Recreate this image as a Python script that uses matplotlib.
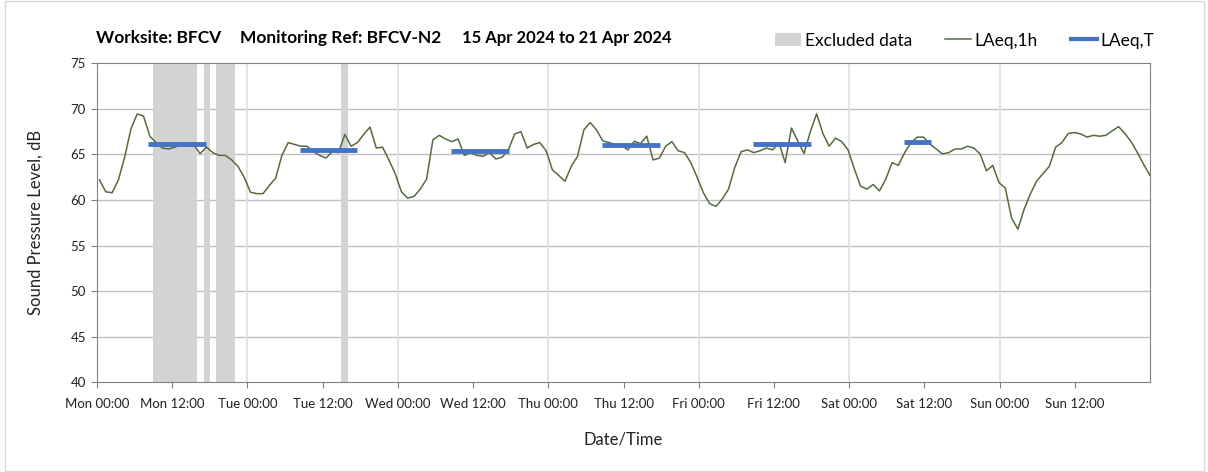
import numpy as np
import matplotlib.pyplot as plt
from matplotlib.patches import Patch, Rectangle
from matplotlib.lines import Line2D

plt.rcParams['font.family'] = ['Lato', 'DejaVu Sans']

# Hourly LAeq,1h values, Mon 00:00 to Sun 23:00
laeq_1h = [
    62.2, 60.9, 60.8, 62.2, 64.7, 67.8, 69.45, 69.2, 67.0, 66.3,
    65.7, 65.6, 65.8, 66.1, 65.9, 66.0, 65.1, 65.8, 65.2, 64.9,
    64.9, 64.4, 63.7, 62.5, 60.85, 60.7, 60.7, 61.6, 62.4, 64.9,
    66.3, 66.1, 65.9, 65.9, 65.3, 64.9, 64.6, 65.3, 65.2, 67.2,
    65.9, 66.3, 67.2, 68.0, 65.7, 65.8, 64.4, 62.9, 60.9, 60.2,
    60.4, 61.2, 62.3, 66.6, 67.1, 66.7, 66.4, 66.7, 64.9, 65.2,
    64.9, 64.8, 65.2, 64.5, 64.7, 65.5, 67.25, 67.5, 65.7, 66.1,
    66.3, 65.4, 63.3, 62.7, 62.05, 63.7, 64.8, 67.7, 68.5, 67.7,
    66.5, 66.3, 66.1, 66.0, 65.5, 66.45, 66.2, 67.0, 64.4, 64.6,
    65.9, 66.4, 65.4, 65.2, 64.1, 62.5, 60.8, 59.6, 59.3, 60.1,
    61.2, 63.6, 65.3, 65.5, 65.2, 65.4, 65.7, 65.5, 66.3, 64.1,
    67.9, 66.5, 65.1, 67.5, 69.45, 67.3, 65.9, 66.8, 66.4, 65.5,
    63.4, 61.5, 61.2, 61.7, 61.0, 62.3, 64.1, 63.8, 65.2, 66.3,
    66.9, 66.9, 66.15, 65.6, 65.05, 65.2, 65.6, 65.6, 65.9, 65.7,
    65.05, 63.2, 63.8, 61.9, 61.3, 58.0, 56.8, 59.0, 60.7, 62.1,
    62.9, 63.7, 65.8, 66.3, 67.3, 67.4, 67.25, 66.9, 67.1, 67.0,
    67.1, 67.6, 68.05, 67.3, 66.4, 65.2, 63.9, 62.7,
]
hours = np.linspace(0.4, 168, len(laeq_1h))

# LAeq,T periods (start hour, end hour, level)
period_start = [8.2, 32.4, 56.4, 80.5, 104.6, 128.7]
period_end = [17.4, 41.5, 65.7, 89.9, 113.9, 133.0]
period_level = [66.15, 65.5, 65.4, 66.0, 66.1, 66.4]

# Excluded data spans (hours)
excl_start = [9, 17, 19, 39]
excl_end = [16, 18, 22, 40]

tick_labels = ["Mon 00:00", "Mon 12:00", "Tue 00:00", "Tue 12:00",
               "Wed 00:00", "Wed 12:00", "Thu 00:00", "Thu 12:00",
               "Fri 00:00", "Fri 12:00", "Sat 00:00", "Sat 12:00",
               "Sun 00:00", "Sun 12:00"]

W, H = 1208, 472
fig = plt.figure(figsize=(W / 100, H / 100), dpi=100)
fig.patches.append(Rectangle((5 / W, 1 / H), 1199 / W, 470 / H, transform=fig.transFigure,
                             fill=False, edgecolor='#d9d9d9', linewidth=1))
ax = fig.add_axes([97 / W, 1 - 382.3 / H, 1053 / W, 319 / H])

for s, e in zip(excl_start, excl_end):
    ax.axvspan(s, e, color='#d3d3d3', linewidth=0, zorder=1)

ax.plot(hours, laeq_1h, color='#556b3f', linewidth=1.1, zorder=3)
ax.hlines(period_level, period_start, period_end, color='#4472c4', linewidth=3.5, zorder=4)

ax.set_xlim(0, 168)
ax.set_ylim(40, 75)
ax.set_xticks(np.arange(0, 168, 12))
ax.set_xticklabels(tick_labels)
ax.set_yticks(np.arange(40, 76, 5))
for y in range(45, 75, 5):
    ax.axhline(y, color='#bfbfbf', linewidth=1, zorder=0)
for d in range(24, 168, 24):
    ax.axvline(d, color='#e0e0e0', linewidth=1.2, zorder=0)

for sp in ax.spines.values():
    sp.set_color('#808080')
ax.tick_params(axis='both', colors='#808080', labelcolor='#222222', labelsize=9.5, length=4)
ax.tick_params(axis='x', pad=7)
ax.tick_params(axis='y', pad=4)

ax.set_ylabel("Sound Pressure Level, dB", fontsize=12, color='#222222', labelpad=19)
ax.set_xlabel("Date/Time", fontsize=12, color='#222222', labelpad=16)

ty = 1 - 38 / H
fig.text(96 / W, ty, "Worksite: BFCV", fontsize=12.5, fontweight='bold', va='center')
fig.text(240 / W, ty, "Monitoring Ref: BFCV-N2", fontsize=12.5, fontweight='bold', va='center')
fig.text(462 / W, ty, "15 Apr 2024 to 21 Apr 2024", fontsize=12, fontweight='bold', va='center')

handles = [Patch(facecolor='#d3d3d3', edgecolor='none'),
           Line2D([], [], color='#556b3f', linewidth=1.1),
           Line2D([], [], color='#4472c4', linewidth=3)]
fig.legend(handles, ["Excluded data", "LAeq,1h", "LAeq,T"], ncol=3, frameon=False,
           loc='center left', bbox_to_anchor=(775 / W, 1 - 40.7 / H),
           borderpad=0, borderaxespad=0, fontsize=12.5, handlelength=1.5,
           handletextpad=0.2, columnspacing=1.9, handleheight=0.8)

fig.savefig("out.png", dpi=100)
